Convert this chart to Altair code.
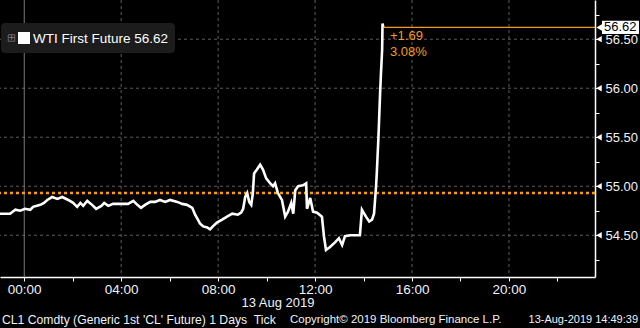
import altair as alt
import pandas as pd

# ---- data ----
times = [
    "2019-08-12 23:00", "2019-08-12 23:25", "2019-08-12 23:38", "2019-08-12 23:50",
    "2019-08-13 00:02", "2019-08-13 00:15", "2019-08-13 00:22", "2019-08-13 00:40",
    "2019-08-13 00:49", "2019-08-13 00:57", "2019-08-13 01:09", "2019-08-13 01:22",
    "2019-08-13 01:34", "2019-08-13 01:49", "2019-08-13 02:01", "2019-08-13 02:11",
    "2019-08-13 02:19", "2019-08-13 02:26", "2019-08-13 02:36", "2019-08-13 02:48",
    "2019-08-13 02:58", "2019-08-13 03:11", "2019-08-13 03:18", "2019-08-13 03:28",
    "2019-08-13 03:40", "2019-08-13 04:02", "2019-08-13 04:17", "2019-08-13 04:30",
    "2019-08-13 04:40", "2019-08-13 04:49", "2019-08-13 04:59", "2019-08-13 05:12",
    "2019-08-13 05:24", "2019-08-13 05:36", "2019-08-13 05:49", "2019-08-13 06:01",
    "2019-08-13 06:19", "2019-08-13 06:31", "2019-08-13 06:43", "2019-08-13 06:56",
    "2019-08-13 07:03", "2019-08-13 07:10", "2019-08-13 07:15", "2019-08-13 07:23",
    "2019-08-13 07:33", "2019-08-13 07:40", "2019-08-13 07:47", "2019-08-13 07:57",
    "2019-08-13 08:10", "2019-08-13 08:22", "2019-08-13 08:35", "2019-08-13 08:49",
    "2019-08-13 08:57", "2019-08-13 09:02", "2019-08-13 09:07", "2019-08-13 09:12",
    "2019-08-13 09:17", "2019-08-13 09:22", "2019-08-13 09:26", "2019-08-13 09:29",
    "2019-08-13 09:36", "2019-08-13 09:44", "2019-08-13 09:51", "2019-08-13 09:59",
    "2019-08-13 10:09", "2019-08-13 10:16", "2019-08-13 10:21", "2019-08-13 10:28",
    "2019-08-13 10:38", "2019-08-13 10:46", "2019-08-13 10:53", "2019-08-13 11:01",
    "2019-08-13 11:06", "2019-08-13 11:11", "2019-08-13 11:18", "2019-08-13 11:30",
    "2019-08-13 11:38", "2019-08-13 11:40", "2019-08-13 11:48", "2019-08-13 11:55",
    "2019-08-13 12:05", "2019-08-13 12:17", "2019-08-13 12:22", "2019-08-13 12:27",
    "2019-08-13 12:37", "2019-08-13 12:50", "2019-08-13 12:59", "2019-08-13 13:07",
    "2019-08-13 13:14", "2019-08-13 13:27", "2019-08-13 13:51", "2019-08-13 13:56",
    "2019-08-13 14:06", "2019-08-13 14:14", "2019-08-13 14:21", "2019-08-13 14:26",
    "2019-08-13 14:31", "2019-08-13 14:33", "2019-08-13 14:37", "2019-08-13 14:41",
    "2019-08-13 14:43", "2019-08-13 14:46", "2019-08-13 14:47", "2019-08-13 14:49",
]
prices = [
    54.72, 54.72, 54.76, 54.75,
    54.77, 54.76, 54.79, 54.81,
    54.83, 54.86, 54.89, 54.87,
    54.89, 54.86, 54.83, 54.79,
    54.83, 54.80, 54.85, 54.81,
    54.77, 54.80, 54.83, 54.80,
    54.82, 54.82, 54.82, 54.85,
    54.81, 54.78, 54.81, 54.84,
    54.84, 54.86, 54.84, 54.86,
    54.84, 54.82, 54.81, 54.78,
    54.71, 54.66, 54.62, 54.59,
    54.58, 54.56, 54.59, 54.63,
    54.66, 54.69, 54.72, 54.71,
    54.73, 54.77, 54.89, 54.93,
    54.84, 54.81, 54.93, 55.13,
    55.17, 55.22, 55.17, 55.08,
    55.03, 55.00, 55.03, 54.93,
    54.86, 54.69, 54.74, 54.83,
    54.72, 54.96, 55.00, 55.01,
    55.03, 54.77, 54.88, 54.74,
    54.73, 54.69, 54.49, 54.35,
    54.38, 54.43, 54.47, 54.40,
    54.49, 54.50, 54.50, 54.76,
    54.69, 54.64, 54.66, 54.72,
    55.00, 55.15, 55.51, 55.95,
    56.14, 56.39, 56.66, 56.62,
]
prev_close = 54.93
last_price = 56.62
change_txt = ["+1.69", "3.08%"]
y_grid = [54.5, 55.0, 55.5, 56.0, 56.5]
y_ticks = [54.25, 54.5, 54.75, 55.0, 55.25, 55.5, 55.75, 56.0, 56.25, 56.5, 56.75]
x_grid = [4, 8, 12, 16, 20]
x_ticks = [0, 2, 4, 6, 8, 10, 12, 14, 16, 18, 20, 22]
legend_label = "WTI First Future 56.62"
date_label = "13 Aug 2019"
footer_left = "CL1 Comdty (Generic 1st 'CL' Future) 1 Days\u00a0\u00a0Tick"
footer_mid = "Copyright\u00a9 2019 Bloomberg Finance L.P."
footer_right = "13-Aug-2019 14:49:39"

# ---- build tables ----
base_day = pd.Timestamp("2019-08-13")
df = pd.DataFrame({"t": pd.to_datetime(times), "v": prices})
df["h"] = (df["t"] - base_day).dt.total_seconds() / 3600.0
df = df[["h", "v"]]

W, H = 595, 277
FONT = "Liberation Sans, Arial, sans-serif"
ORANGE = "#f39a1e"
TXT = "#eef2f8"
XDOM = [-1.0, 23.55]
YDOM = [54.074, 56.90]

xs = alt.Scale(domain=XDOM, nice=False, zero=False)
ys = alt.Scale(domain=YDOM, nice=False, zero=False)

xaxis = alt.Axis(
    values=x_ticks, grid=False, domain=True, domainColor="white", domainWidth=1.5,
    ticks=True, tickColor="white", tickSize=4, tickWidth=1,
    labelColor=TXT, labelFont=FONT, labelFontSize=13.5, labelPadding=1,
    labelExpr="datum.value % 4 == 0 ? ((datum.value < 10 ? '0' : '') + datum.value + ':00') : ''",
    labelFlush=False, labelOverlap=False, title=None,
)
yaxis = alt.Axis(
    orient="right", values=y_ticks, grid=False, domain=True, domainColor="white",
    domainWidth=1.5, ticks=True, tickColor="white", tickSize=4, tickWidth=1,
    labelColor=TXT, labelFont=FONT, labelFontSize=13, labelPadding=6,
    labelExpr="round(datum.value * 4) % 2 == 0 ? format(datum.value, '.2f') : ''",
    labelFlush=False, labelOverlap=False, title=None,
)


def X(f="h:Q"):
    return alt.X(f, scale=xs, axis=xaxis, title=None)


def Y(f="v:Q"):
    return alt.Y(f, scale=ys, axis=yaxis, title=None)


one = pd.DataFrame({"a": [0]})

hgrid = alt.Chart(pd.DataFrame({"v": y_grid})).mark_rule(
    color="#5e5e5e", strokeDash=[3, 3], strokeWidth=1
).encode(y=Y())

vgrid = alt.Chart(pd.DataFrame({"h": x_grid})).mark_rule(
    color="#5e5e5e", strokeDash=[3, 3], strokeWidth=1
).encode(x=X())

vzero = alt.Chart(pd.DataFrame({"h": [0]})).mark_rule(
    color="#7a7a7a", strokeWidth=1
).encode(x=X())

prev_rule = alt.Chart(pd.DataFrame({"v": [prev_close]})).mark_rule(
    color="#ff9a00", strokeDash=[3, 3], strokeWidth=2.5
).encode(y=Y())

line = alt.Chart(df).mark_line(color="white", strokeWidth=2.6, interpolate="linear").encode(
    x=X(), y=Y()
)

last_df = pd.DataFrame({"h": [df["h"].iloc[-1]], "v": [last_price]})
last_rule = alt.Chart(last_df).mark_rule(color=ORANGE, strokeWidth=1.2).encode(
    x=X(), x2=alt.value(W), y=Y()
)

chg1 = alt.Chart(one).mark_text(
    text=change_txt[0], color=ORANGE, font=FONT, fontSize=13, align="left", baseline="middle"
).encode(x=alt.value(390), y=alt.value(36))
chg2 = alt.Chart(one).mark_text(
    text=change_txt[1], color=ORANGE, font=FONT, fontSize=13, align="left", baseline="middle"
).encode(x=alt.value(390), y=alt.value(52))

tris = alt.Chart(pd.DataFrame({"v": y_grid})).mark_point(
    shape="triangle-left", filled=True, color="white", size=40, opacity=1
).encode(x=alt.value(599), y=Y())

lbl_box = alt.Chart(pd.DataFrame({"v": [last_price + 0.068], "v2": [last_price - 0.068]})).mark_rect(
    color="white"
).encode(x=alt.value(602), x2=alt.value(639), y=Y(), y2="v2:Q")
lbl_tri = alt.Chart(pd.DataFrame({"v": [last_price]})).mark_point(
    shape="triangle-left", filled=True, color="white", size=70, opacity=1
).encode(x=alt.value(600), y=Y())
lbl_txt = alt.Chart(pd.DataFrame({"v": [last_price]})).mark_text(
    color="black", font=FONT, fontSize=13, align="left", baseline="middle"
).encode(x=alt.value(604), y=Y(), text=alt.Text("v:Q", format=".2f"))

leg_box = alt.Chart(one).mark_rect(color="#1c1c1c", cornerRadius=4).encode(
    x=alt.value(1), x2=alt.value(175), y=alt.value(23), y2=alt.value(53)
)
leg_icon = alt.Chart(one).mark_square(
    filled=False, color="#8a8a8a", size=42, strokeWidth=1
).encode(x=alt.value(11.5), y=alt.value(38))
leg_plus = alt.Chart(one).mark_text(
    text="+", color="#8a8a8a", font="DejaVu Sans", fontSize=8, align="center", baseline="middle"
).encode(x=alt.value(11.5), y=alt.value(38))
leg_sq = alt.Chart(one).mark_square(color="white", size=144, opacity=1).encode(
    x=alt.value(24), y=alt.value(38)
)
leg_txt = alt.Chart(one).mark_text(
    text=legend_label, color="white", font=FONT, fontSize=13.5, align="left", baseline="middle"
).encode(x=alt.value(33), y=alt.value(39))

date_txt = alt.Chart(one).mark_text(
    text=date_label, color=TXT, font=FONT, fontSize=13, align="center", baseline="middle"
).encode(x=alt.value(278), y=alt.value(303))
f1 = alt.Chart(one).mark_text(
    text=footer_left, color=TXT, font=FONT, fontSize=12.2, align="left", baseline="middle"
).encode(x=alt.value(2), y=alt.value(320))
f2 = alt.Chart(one).mark_text(
    text=footer_mid, color=TXT, font=FONT, fontSize=11.5, align="left", baseline="middle"
).encode(x=alt.value(290), y=alt.value(320))
f3 = alt.Chart(one).mark_text(
    text=footer_right, color=TXT, font=FONT, fontSize=11, align="right", baseline="middle"
).encode(x=alt.value(638), y=alt.value(320))

chart = alt.layer(
    hgrid, vgrid, vzero, prev_rule, line, last_rule, chg1, chg2, tris,
    lbl_box, lbl_tri, lbl_txt, leg_box, leg_icon, leg_plus, leg_sq, leg_txt,
    date_txt, f1, f2, f3,
).properties(
    width=W, height=H, autosize="none",
    padding={"left": 0, "top": 0, "right": 45, "bottom": 51},
    background="black",
).configure_view(stroke=None)

chart.save("out.html", embed_options={"renderer": "svg", "actions": False})
